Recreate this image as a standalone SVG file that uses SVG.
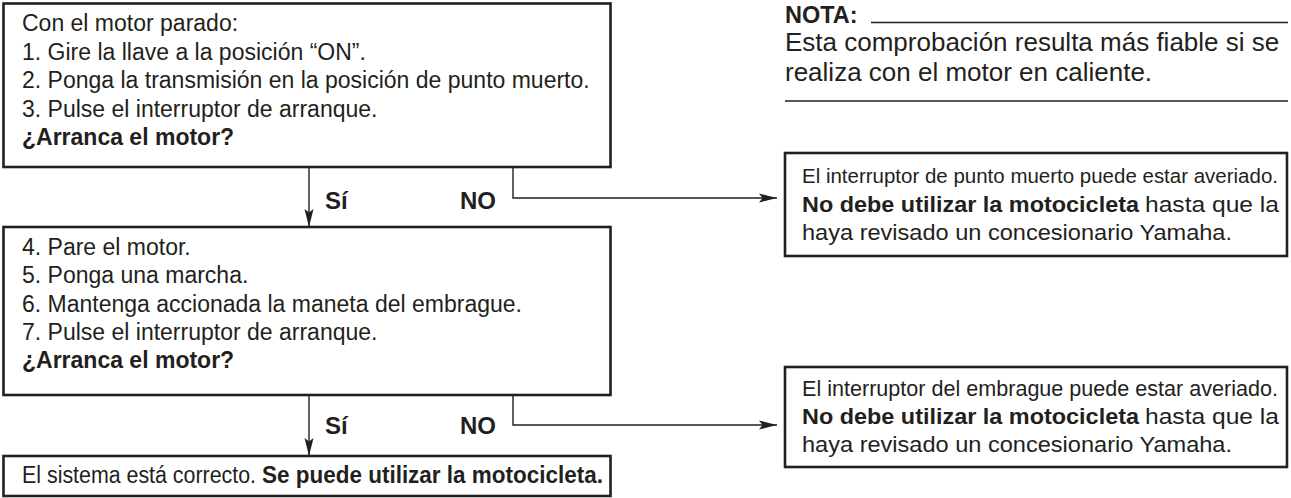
<svg xmlns="http://www.w3.org/2000/svg" width="1291" height="498" viewBox="0 0 1291 498">
<defs>
<style>
.box{fill:#fff;stroke:#231f20;stroke-width:2.6}
.t{font-family:"Liberation Sans",Arial,sans-serif;fill:#231f20}
.l{font-size:23px}
.r{font-size:21.5px}
.r1{font-size:20.5px}
.n{font-size:26px}
.b{font-weight:bold}
.con{fill:none;stroke:#231f20;stroke-width:1.4}
.rule{stroke:#231f20;stroke-width:1.5}
</style>
<marker id="ah" markerWidth="18" markerHeight="10" refX="18" refY="5" orient="auto" markerUnits="userSpaceOnUse">
<path d="M0,0.5 L18,5 L0,9.5 L3.5,5 Z" fill="#231f20"/>
</marker>
</defs>
<rect width="1291" height="498" fill="#fff"/>
<g id="box1">
<rect class="box" x="3.5" y="3.5" width="607" height="163.5"/>
<text class="t l" x="22" y="31">Con el motor parado:</text>
<text class="t l" x="22" y="59.5">1. Gire la llave a la posición “ON”.</text>
<text class="t l" x="22" y="88">2. Ponga la transmisión en la posición de punto muerto.</text>
<text class="t l" x="22" y="116.5">3. Pulse el interruptor de arranque.</text>
<text class="t l b" x="22" y="144.5">¿Arranca el motor?</text>
</g>
<g id="box2">
<rect class="box" x="3.5" y="227" width="607" height="168"/>
<text class="t l" x="22" y="255">4. Pare el motor.</text>
<text class="t l" x="22" y="283">5. Ponga una marcha.</text>
<text class="t l" x="22" y="311.5">6. Mantenga accionada la maneta del embrague.</text>
<text class="t l" x="22" y="340">7. Pulse el interruptor de arranque.</text>
<text class="t l b" x="22" y="368">¿Arranca el motor?</text>
</g>
<g id="box3">
<rect class="box" x="3.5" y="456" width="607" height="40"/>
<text class="t l" x="22" y="483" textLength="234" lengthAdjust="spacingAndGlyphs">El sistema está correcto.</text>
<text class="t l b" x="262" y="483" textLength="341" lengthAdjust="spacingAndGlyphs">Se puede utilizar la motocicleta.</text>
</g>
<g id="fault1">
<rect class="box" x="785" y="153" width="502" height="103"/>
<text class="t r1" x="802" y="183" textLength="476" lengthAdjust="spacingAndGlyphs">El interruptor de punto muerto puede estar averiado.</text>
<text class="t r b" x="802" y="212" textLength="337" lengthAdjust="spacingAndGlyphs">No debe utilizar la motocicleta</text>
<text class="t r" x="1145" y="212" textLength="134" lengthAdjust="spacingAndGlyphs">hasta que la</text>
<text class="t r" x="802" y="240" textLength="430" lengthAdjust="spacingAndGlyphs">haya revisado un concesionario Yamaha.</text>
</g>
<g id="fault2">
<rect class="box" x="785" y="367" width="502" height="100"/>
<text class="t r" x="802" y="396" textLength="476" lengthAdjust="spacingAndGlyphs">El interruptor del embrague puede estar averiado.</text>
<text class="t r b" x="802" y="424" textLength="337" lengthAdjust="spacingAndGlyphs">No debe utilizar la motocicleta</text>
<text class="t r" x="1145" y="424" textLength="134" lengthAdjust="spacingAndGlyphs">hasta que la</text>
<text class="t r" x="802" y="452" textLength="430" lengthAdjust="spacingAndGlyphs">haya revisado un concesionario Yamaha.</text>
</g>
<g id="nota">
<text class="t b" style="font-size:23.5px" x="785" y="23">NOTA:</text>
<line class="rule" x1="871" y1="22.5" x2="1288" y2="22.5"/>
<text class="t n" x="785" y="51">Esta comprobación resulta más fiable si se</text>
<text class="t n" x="785" y="81">realiza con el motor en caliente.</text>
<line class="rule" x1="785" y1="101" x2="1288" y2="101"/>
</g>
<g id="connectors">
<line class="con" x1="309" y1="168" x2="309" y2="227" marker-end="url(#ah)"/>
<polyline class="con" points="513,168 513,198 777,198" marker-end="url(#ah)"/>
<line class="con" x1="309" y1="396" x2="309" y2="456" marker-end="url(#ah)"/>
<polyline class="con" points="513,396 513,425 777,425" marker-end="url(#ah)"/>
<text class="t b" style="font-size:24px" x="325" y="209">Sí</text>
<text class="t b" style="font-size:24px" x="460" y="209">NO</text>
<text class="t b" style="font-size:24px" x="325" y="434">Sí</text>
<text class="t b" style="font-size:24px" x="460" y="434">NO</text>
</g>
</svg>
